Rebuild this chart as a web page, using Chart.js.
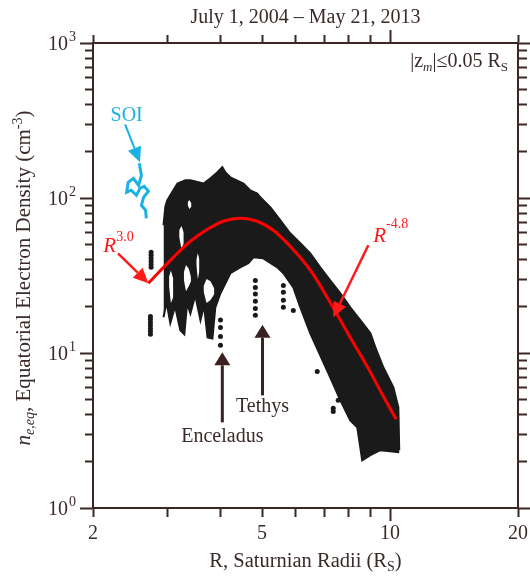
<!DOCTYPE html>
<html>
<head>
<meta charset="utf-8">
<script src="https://cdn.jsdelivr.net/npm/chart.js@4.4.1/dist/chart.umd.min.js"></script>
<style>
  html, body { margin: 0; padding: 0; background: #fff; }
</style>
</head>
<body>
<canvas id="densityChart" width="530" height="577"></canvas>
<script>
// Values: R in Saturn radii, density in cm^-3

// outline of the dense cloud of measurements (upper and lower edge)
const cloudUpper = [
  [2.93, 66.7], [2.96, 88], [2.99, 96.6], [3.04, 104], [3.16, 124], [3.30, 130], [3.39, 130],
  [3.64, 124], [3.78, 134], [3.92, 146], [4.03, 158], [4.10, 146], [4.21, 136],
  [4.52, 124], [4.69, 112], [4.87, 107], [4.95, 101], [5.23, 87.1], [5.52, 71.8],
  [5.82, 59.2], [6.15, 51.1], [6.49, 43.9], [6.85, 35.7], [7.23, 29.4], [7.64, 24.3],
  [8.06, 19.7], [8.51, 16.3], [8.99, 13.4], [9.23, 10.9], [9.64, 8.09], [10.18, 6.01],
  [10.46, 4.46], [10.51, 2.36]
];
const cloudLower = [
  [2.93, 17.0], [2.98, 21.2], [3.04, 15.6], [3.12, 20.0], [3.21, 14.0], [3.28, 13.2],
  [3.33, 20.9], [3.39, 18.0], [3.48, 23.6], [3.58, 16.3], [3.65, 20.3], [3.72, 12.6],
  [3.82, 12.4], [3.88, 19.7], [3.99, 24.3], [4.21, 32.7], [4.44, 35.7],
  [4.64, 37.9], [4.77, 41.4], [5.03, 40.8], [5.43, 35.7], [5.61, 32.7], [5.92, 26.5],
  [6.15, 19.7], [6.49, 13.4], [6.85, 9.66], [7.23, 6.97], [7.64, 4.95], [8.06, 3.68],
  [8.37, 3.32], [8.60, 2.03], [8.99, 2.19], [9.49, 2.36], [10.51, 2.29]
];

// empty slits between the orbit streaks inside the cloud: [R, top, bottom]
const cloudGaps = [
  [[3.19, 62, 56], [3.23, 66, 47], [3.27, 60, 51]],
  [[3.27, 33, 30], [3.31, 37, 25], [3.36, 35, 27], [3.40, 31, 29]],
  [[3.34, 94, 90], [3.37, 97, 85], [3.41, 92, 88]],
  [[3.02, 31, 27], [3.05, 34, 21], [3.09, 30, 23]],
  [[3.50, 40, 37], [3.53, 44, 30], [3.56, 40, 34]],
  [[3.64, 27, 25], [3.70, 30, 21], [3.78, 29, 22], [3.86, 26, 24]]
];

// single samples outside the cloud (streaks near Enceladus / Tethys etc.)
const strayPoints = [
  [2.74, 44.7], [2.74, 42.7], [2.74, 40.8], [2.74, 39.1], [2.74, 37.3], [2.74, 35.7],
  [2.73, 17.2], [2.73, 16.5], [2.73, 15.8], [2.73, 15.1], [2.73, 14.4], [2.73, 13.8], [2.73, 13.2],
  [3.99, 16.3], [3.99, 14.6], [3.99, 12.8], [3.99, 11.2],
  [4.82, 29.4], [4.82, 26.5], [4.82, 24.0], [4.82, 21.6], [4.82, 19.4], [4.82, 17.5],
  [5.61, 27.3], [5.61, 24.7], [5.61, 21.9], [5.61, 19.7],
  [5.92, 18.8], [6.74, 7.6], [7.35, 4.4], [7.35, 4.2], [7.55, 4.95]
];

// SOI pass
const soiR = [2.57, 2.60, 2.56, 2.49, 2.42, 2.40, 2.46, 2.53, 2.58, 2.64, 2.70, 2.63, 2.60, 2.66, 2.67];
const soiN = [167.5, 140.1, 120.8, 134.0, 126.2, 108.9, 112.2, 104.0, 115.6, 118.9, 110.5, 101.0, 89.7, 83.3, 74.0];

// fitted profile (R^3.0 inside, R^-4.8 outside)
const fitR = [2.70, 3.09, 3.39, 3.72, 4.05, 4.44, 4.87, 5.31, 5.82, 6.49, 7.23, 8.06, 8.99, 9.64, 10.34];
const fitN = [28.2, 41.4, 52.6, 62.8, 70.8, 74.0, 70.8, 61.9, 48.8, 34.2, 21.2, 12.6, 7.51, 5.26, 3.73];

// axes
const xTicks = [2, 3, 4, 5, 6, 7, 8, 9, 10, 20];
const xMajor = [10];
const xLabels = [2, 5, 10, 20];
const yTicks = [1, 2, 3, 4, 5, 6, 7, 8, 9, 10, 20, 30, 40, 50, 60, 70, 80, 90,
  100, 200, 300, 400, 500, 600, 700, 800, 900, 1000];
const yMajor = [1, 10, 100, 1000];
const yExponents = ['0', '1', '2', '3'];

const toXY = arr => arr.map(p => ({ x: p[0], y: p[1] }));
const zipXY = (xs, ys) => xs.map((x, i) => ({ x: x, y: ys[i] }));

const textColor = '#3b2a2a';
const axisColor = '#3b2626';
const cloudColor = '#1a1a1a';
const serif = '"Liberation Serif", "Times New Roman", serif';

function axis(position, min, max, tickValues, majors, size, showLabels) {
  const fromAxis = position === 'bottom' || position === 'right';
  const horizontal = position === 'bottom' || position === 'top';
  return {
    type: 'logarithmic',
    position: position,
    min: min,
    max: max,
    afterBuildTicks: s => { s.ticks = tickValues.map(v => ({ value: v })); },
    afterFit: s => { if (horizontal) s.height = size; else s.width = size; },
    border: { display: true, color: axisColor, width: 2 },
    grid: {
      drawOnChartArea: false,
      tickLength: 13,
      tickWidth: 2,
      tickColor: axisColor,
      tickBorderDash: ctx => (ctx.tick && majors.includes(ctx.tick.value)) ? [] : (fromAxis ? [8, 30] : [0, 5, 30])
    },
    ticks: {
      display: showLabels,
      autoSkip: false,
      maxRotation: 0,
      padding: 1,
      color: textColor,
      font: { family: serif, size: 20 },
      callback: v => xLabels.includes(v) ? String(v) : ''
    }
  };
}

// each gap becomes a white band between its top and bottom edge
const gapDatasets = [];
cloudGaps.forEach((gap, i) => {
  gapDatasets.push({
    label: 'gap top ' + i,
    data: gap.map(g => ({ x: g[0], y: g[1] })),
    borderWidth: 0,
    borderColor: 'rgba(0,0,0,0)',
    backgroundColor: '#ffffff',
    pointRadius: 0,
    tension: 0,
    fill: '+1'
  });
  gapDatasets.push({
    label: 'gap bottom ' + i,
    data: gap.map(g => ({ x: g[0], y: g[2] })),
    borderWidth: 0,
    borderColor: 'rgba(0,0,0,0)',
    pointRadius: 0,
    tension: 0,
    fill: false
  });
});

function richText(ctx, parts, x, y, align) {
  const fontOf = p => (p.it ? 'italic ' : '') + p.s + 'px ' + serif;
  let w = 0;
  parts.forEach(p => { ctx.font = fontOf(p); w += ctx.measureText(p.t).width; });
  let cx = align === 'center' ? x - w / 2 : (align === 'right' ? x - w : x);
  ctx.textAlign = 'left';
  ctx.textBaseline = 'alphabetic';
  parts.forEach(p => {
    ctx.font = fontOf(p);
    ctx.fillText(p.t, cx, y + (p.dy || 0));
    cx += ctx.measureText(p.t).width;
  });
}

function arrow(ctx, x1, y1, x2, y2, color, lw, hl, hw) {
  const a = Math.atan2(y2 - y1, x2 - x1);
  const bx = x2 - hl * Math.cos(a), by = y2 - hl * Math.sin(a);
  ctx.strokeStyle = color;
  ctx.lineWidth = lw;
  ctx.beginPath();
  ctx.moveTo(x1, y1);
  ctx.lineTo(bx, by);
  ctx.stroke();
  ctx.fillStyle = color;
  ctx.beginPath();
  ctx.moveTo(x2, y2);
  ctx.lineTo(bx + hw * Math.sin(a), by - hw * Math.cos(a));
  ctx.lineTo(bx - hw * Math.sin(a), by + hw * Math.cos(a));
  ctx.closePath();
  ctx.fill();
}

// labels, arrows and axis texts
const annotations = {
  id: 'annotations',
  afterDraw(chart) {
    const ctx = chart.ctx;
    const xs = chart.scales.x, ys = chart.scales.y;
    const px = v => xs.getPixelForValue(v), py = v => ys.getPixelForValue(v);
    const mid = (chart.chartArea.left + chart.chartArea.right) / 2;
    ctx.save();

    // y tick labels 10^n
    ctx.fillStyle = textColor;
    yMajor.forEach((v, i) => {
      const y = py(v);
      ctx.font = '20px ' + serif;
      ctx.textAlign = 'right';
      ctx.textBaseline = 'alphabetic';
      ctx.fillText('10', 68, y + 7);
      ctx.font = '14px ' + serif;
      ctx.textAlign = 'left';
      ctx.fillText(yExponents[i], 69, y - 2);
    });

    // title and axis titles
    ctx.font = '20px ' + serif;
    ctx.textAlign = 'center';
    ctx.fillText('July 1, 2004 \u2013 May 21, 2013', mid, 23);
    richText(ctx, [
      { t: 'R, Saturnian Radii (R', s: 20.5 }, { t: 'S', s: 14, dy: 4 }, { t: ')', s: 20.5 }
    ], mid, 567, 'center');
    richText(ctx, [
      { t: '|z', s: 20 }, { t: 'm', s: 13, it: true, dy: 4 }, { t: '|\u22640.05 R', s: 20 }, { t: 'S', s: 13, dy: 4 }
    ], 508, 67, 'right');
    ctx.save();
    ctx.translate(30, 278);
    ctx.rotate(-Math.PI / 2);
    richText(ctx, [
      { t: 'n', s: 21, it: true }, { t: 'e,eq', s: 14, it: true, dy: 4 },
      { t: ', Equatorial Electron Density (cm', s: 21 }, { t: '-3', s: 14, dy: -8 }, { t: ')', s: 21 }
    ], 0, 0, 'center');
    ctx.restore();

    // SOI
    const blue = '#1ab2e3';
    ctx.fillStyle = blue;
    ctx.font = '20px ' + serif;
    ctx.textAlign = 'center';
    ctx.fillText('SOI', px(2.40), py(312));
    arrow(ctx, px(2.38), py(299), px(2.58), py(170), blue, 2, 15, 7);

    // power-law labels
    const red = '#ff1a1a';
    ctx.fillStyle = red;
    richText(ctx, [{ t: 'R', s: 21, it: true }, { t: '3.0', s: 14, dy: -11 }], px(2.115), py(44.7), 'left');
    arrow(ctx, px(2.29), py(43.9), px(2.70), py(28.2), red, 2.5, 15, 7);
    ctx.fillStyle = red;
    richText(ctx, [{ t: 'R', s: 21, it: true }, { t: '-4.8', s: 14, dy: -14 }], px(9.13), py(51.8), 'left');
    arrow(ctx, px(8.89), py(49.6), px(7.35), py(17.0), red, 2.5, 15, 7);

    // moons
    const brown = '#3a2020';
    arrow(ctx, px(4.03), py(3.57), px(4.03), py(10.1), brown, 3, 13, 8);
    arrow(ctx, px(5.01), py(5.33), px(5.01), py(15.2), brown, 3, 13, 8);
    ctx.fillStyle = textColor;
    ctx.font = '20px ' + serif;
    ctx.textAlign = 'center';
    ctx.fillText('Enceladus', px(4.03), py(2.65));
    ctx.fillText('Tethys', px(5.01), py(4.15));
    ctx.restore();
  }
};

new Chart(document.getElementById('densityChart').getContext('2d'), {
  type: 'line',
  data: {
    datasets: [
      {
        label: 'fit',
        data: zipXY(fitR, fitN),
        borderColor: '#ff0000',
        borderWidth: 3,
        pointRadius: 0,
        cubicInterpolationMode: 'monotone',
        fill: false
      },
      {
        label: 'SOI',
        data: zipXY(soiR, soiN),
        borderColor: '#1ab2e3',
        borderWidth: 3,
        pointRadius: 0,
        tension: 0,
        fill: false
      },
      {
        label: 'stray',
        data: toXY(strayPoints),
        showLine: false,
        pointStyle: 'circle',
        pointRadius: 2.5,
        pointBorderWidth: 0,
        pointBackgroundColor: cloudColor,
        fill: false
      }
    ].concat(gapDatasets, [
      {
        label: 'cloud upper',
        data: toXY(cloudUpper),
        borderColor: cloudColor,
        backgroundColor: cloudColor,
        borderWidth: 2,
        pointRadius: 0,
        tension: 0,
        fill: '+1'
      },
      {
        label: 'cloud lower',
        data: toXY(cloudLower),
        borderColor: cloudColor,
        borderWidth: 2,
        pointRadius: 0,
        tension: 0,
        fill: false
      }
    ])
  },
  options: {
    responsive: false,
    animation: false,
    devicePixelRatio: 1,
    layout: { padding: 0 },
    plugins: { legend: { display: false }, tooltip: { enabled: false } },
    scales: {
      x: axis('bottom', 2, 20, xTicks, xMajor, 69, true),
      x2: axis('top', 2, 20, xTicks, xMajor, 43, false),
      y: axis('left', 1, 1000, yTicks, yMajor, 93, false),
      y2: axis('right', 1, 1000, yTicks, yMajor, 12, false)
    }
  },
  plugins: [annotations]
});
</script>
</body>
</html>
